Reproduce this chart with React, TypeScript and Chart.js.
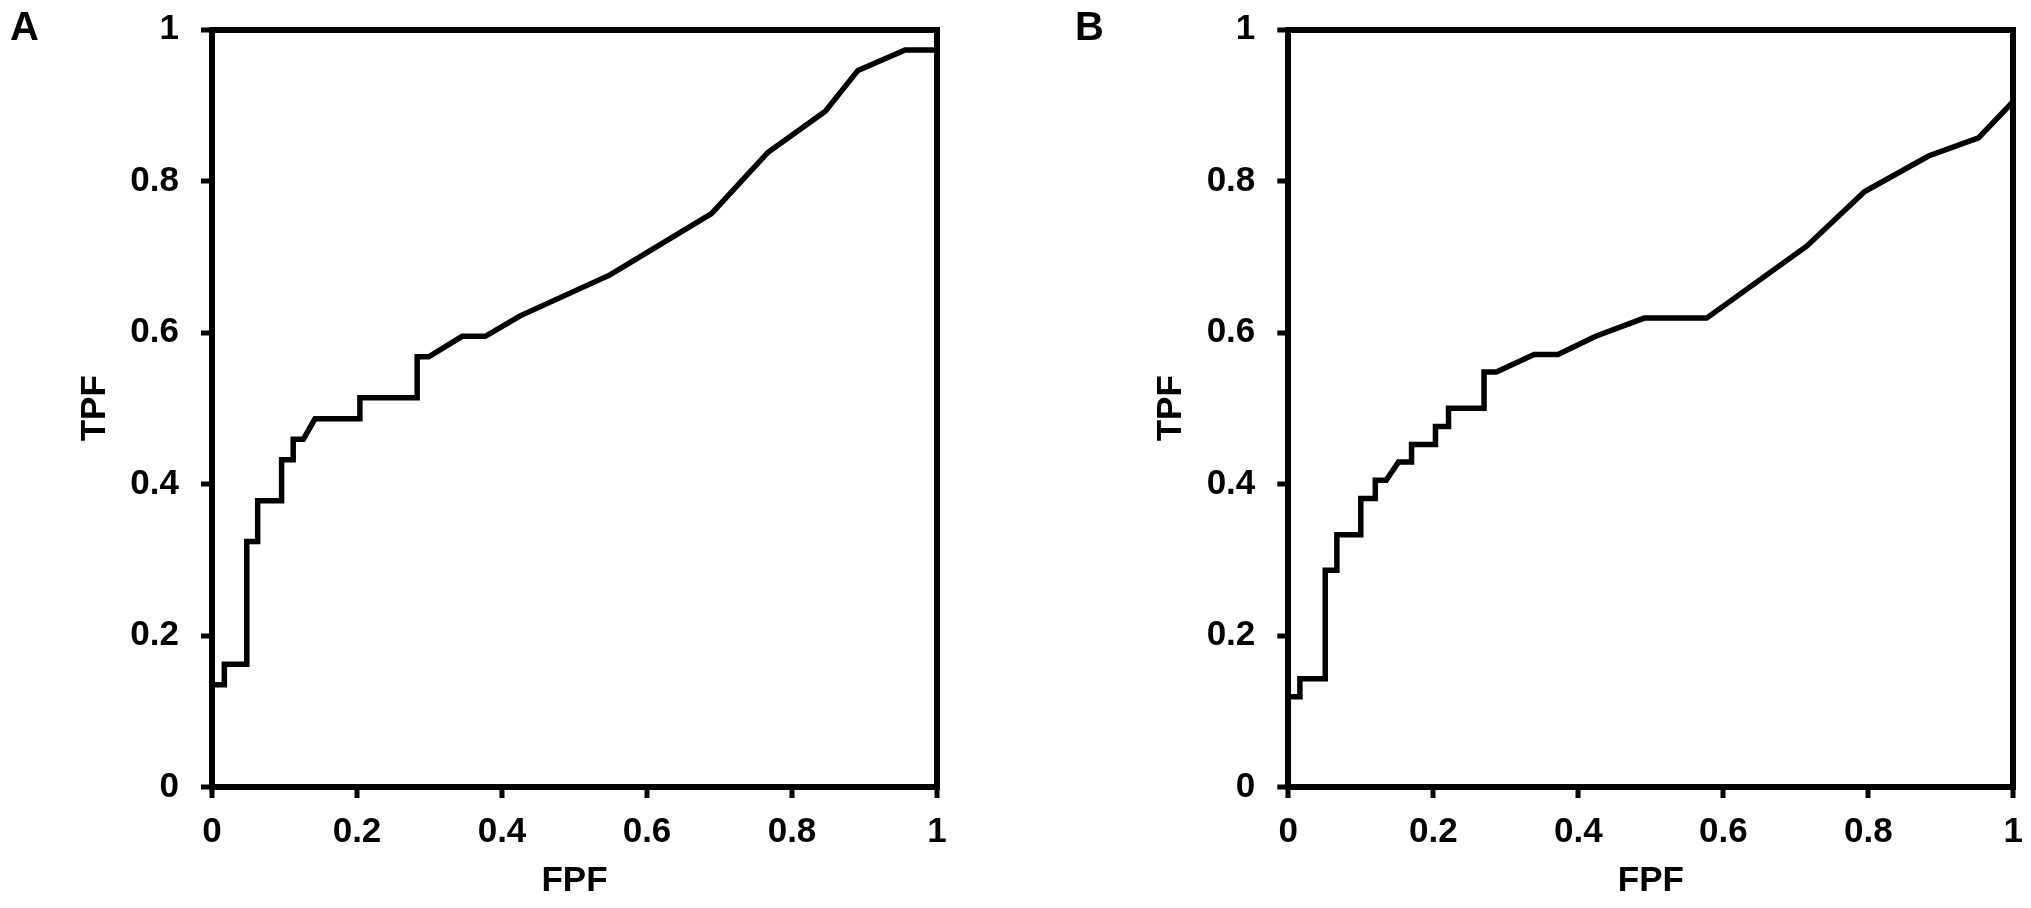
import React, { useEffect, useRef } from 'react';
import { Chart, registerables } from 'chart.js';

Chart.register(...registerables);

// Panel A ROC curve (false positive fraction vs true positive fraction)
const FPF_A = [0, 0, 0.017, 0.017, 0.048, 0.048, 0.063, 0.063, 0.096, 0.096, 0.112, 0.112, 0.126, 0.142, 0.204, 0.204, 0.283, 0.283, 0.299, 0.345, 0.377, 0.425, 0.549, 0.689, 0.767, 0.846, 0.891, 0.956, 1, 1];
const TPF_A = [0, 0.135, 0.135, 0.162, 0.162, 0.324, 0.324, 0.378, 0.378, 0.432, 0.432, 0.459, 0.459, 0.486, 0.486, 0.514, 0.514, 0.568, 0.568, 0.595, 0.595, 0.622, 0.676, 0.757, 0.838, 0.892, 0.946, 0.973, 0.973, 1];

// Panel B ROC curve
const FPF_B = [0, 0, 0.016, 0.016, 0.051, 0.051, 0.067, 0.067, 0.1, 0.1, 0.12, 0.12, 0.135, 0.152, 0.17, 0.17, 0.203, 0.203, 0.221, 0.221, 0.27, 0.27, 0.287, 0.339, 0.372, 0.424, 0.491, 0.577, 0.715, 0.795, 0.883, 0.952, 1, 1];
const TPF_B = [0, 0.119, 0.119, 0.143, 0.143, 0.286, 0.286, 0.333, 0.333, 0.381, 0.381, 0.405, 0.405, 0.429, 0.429, 0.452, 0.452, 0.476, 0.476, 0.5, 0.5, 0.548, 0.548, 0.571, 0.571, 0.595, 0.619, 0.619, 0.714, 0.786, 0.833, 0.857, 0.905, 1];

const AXIS_TICKS = [0, 0.2, 0.4, 0.6, 0.8, 1];
const AXIS_TICK_LABELS = ['0', '0.2', '0.4', '0.6', '0.8', '1'];
const PANEL_LABELS = ['A', 'B'];
const X_TITLE = 'FPF';
const Y_TITLE = 'TPF';

const FONT_FAMILY = '"Liberation Sans", Arial, Helvetica, sans-serif';
const TICK_FONT = { family: FONT_FAMILY, size: 35, weight: 'bold' as const };
const AXIS_W = 6;

type PanelProps = {
  fpf: number[];
  tpf: number[];
  left: number;
  width: number;
  padLeft: number;
  padRight: number;
};

const clearPadding = (s: any) => {
  s.paddingTop = 0;
  s.paddingBottom = 0;
  s.paddingLeft = 0;
  s.paddingRight = 0;
};

function Panel({ fpf, tpf, left, width, padLeft, padRight }: PanelProps) {
  const ref = useRef<HTMLCanvasElement | null>(null);

  useEffect(() => {
    if (!ref.current) return;
    const points = fpf.map((x, i) => ({ x, y: tpf[i] }));
    const setTicks = (scale: any) => {
      scale.ticks = AXIS_TICKS.map((v) => ({ value: v }));
    };
    const frameAxis = (position: string, horizontal: boolean) => ({
      type: 'linear' as const,
      position,
      min: 0,
      max: 1,
      display: true,
      ticks: { display: false },
      grid: { display: false, drawOnChartArea: false, drawTicks: false, lineWidth: AXIS_W },
      border: { display: true, width: AXIS_W, color: '#000' },
      afterFit: (s: any) => {
        if (horizontal) s.height = 0;
        else s.width = 0;
        clearPadding(s);
      },
    });
    const chart = new Chart(ref.current, {
      type: 'line',
      data: {
        datasets: [
          {
            data: points,
            borderColor: '#000',
            borderWidth: 5.5,
            pointRadius: 0,
            tension: 0,
            fill: false,
            borderJoinStyle: 'miter',
          },
        ],
      },
      options: {
        animation: false,
        responsive: false,
        maintainAspectRatio: false,
        layout: { padding: { left: padLeft, right: padRight, top: 29.5, bottom: 0 } },
        plugins: { legend: { display: false }, tooltip: { enabled: false } },
        scales: {
          x: {
            type: 'linear',
            position: 'bottom',
            min: 0,
            max: 1,
            afterBuildTicks: setTicks,
            afterFit: (s: any) => {
              s.height = 121;
              clearPadding(s);
            },
            ticks: {
              color: '#000',
              font: TICK_FONT,
              padding: 13,
              maxRotation: 0,
              autoSkip: false,
              callback: (_v: any, i: number) => AXIS_TICK_LABELS[i],
            },
            grid: { display: true, drawOnChartArea: false, drawTicks: true, tickLength: 11, tickWidth: 5, lineWidth: AXIS_W, color: '#000' },
            border: { display: true, width: AXIS_W, color: '#000' },
            title: { display: true, text: X_TITLE, color: '#000', font: TICK_FONT, padding: { top: 0, bottom: 6 } },
          },
          y: {
            type: 'linear',
            position: 'left',
            min: 0,
            max: 1,
            afterBuildTicks: setTicks,
            afterFit: (s: any) => {
              s.width = 212;
              clearPadding(s);
            },
            ticks: {
              color: '#000',
              font: TICK_FONT,
              padding: 22,
              autoSkip: false,
              callback: (_v: any, i: number) => AXIS_TICK_LABELS[i],
            },
            grid: { display: true, drawOnChartArea: false, drawTicks: true, tickLength: 11, tickWidth: 5, lineWidth: AXIS_W, color: '#000' },
            border: { display: true, width: AXIS_W, color: '#000' },
            title: { display: true, text: Y_TITLE, color: '#000', font: TICK_FONT, padding: { top: 74, bottom: 0 } },
          },
          x2: frameAxis('top', true),
          y2: frameAxis('right', false),
        } as any,
      },
    });
    return () => chart.destroy();
  }, [fpf, tpf, padLeft, padRight]);

  return (
    <canvas
      ref={ref}
      width={width}
      height={908}
      style={{ position: 'absolute', left, top: 0, width, height: 908, display: 'block' }}
    />
  );
}

const letterStyle = (left: number): React.CSSProperties => ({
  position: 'absolute',
  left,
  top: 6,
  fontFamily: FONT_FAMILY,
  fontWeight: 'bold',
  fontSize: 40,
  lineHeight: '40px',
  color: '#000',
});

export default function App() {
  return (
    <div
      style={{
        position: 'fixed',
        left: 0,
        top: 0,
        width: 2031,
        height: 908,
        background: '#fff',
        overflow: 'hidden',
      }}
    >
      <Panel fpf={FPF_A} tpf={TPF_A} left={0} width={1000} padLeft={0} padRight={63} />
      <Panel fpf={FPF_B} tpf={TPF_B} left={1000} width={1031} padLeft={76.3} padRight={17.7} />
      <div style={letterStyle(10)}>{PANEL_LABELS[0]}</div>
      <div style={letterStyle(1075)}>{PANEL_LABELS[1]}</div>
    </div>
  );
}
